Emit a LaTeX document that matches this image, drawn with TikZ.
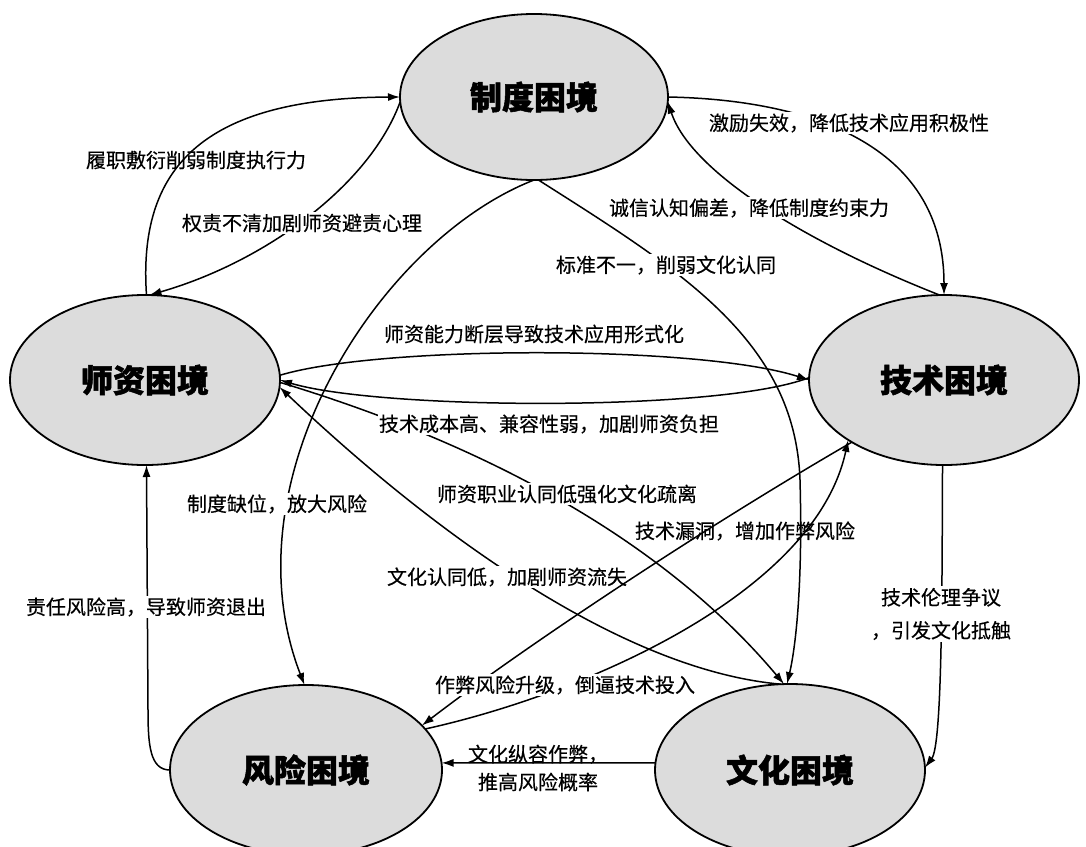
\documentclass[tikz,border=0pt]{standalone}
\usepackage{fontspec}
\setmainfont{Noto Sans CJK SC}[FakeBold=0.35,BoldFeatures={FakeBold=1.6}]
\usetikzlibrary{shapes.geometric,arrows.meta}
\definecolor{ellfill}{RGB}{220,220,220}
\begin{document}
\begin{tikzpicture}[x=1pt,y=-1pt,
  dilemma/.style={ellipse,draw=black,line width=1.8pt,fill=ellfill,inner sep=0pt,outer sep=0pt,font=\fontsize{32}{36}\selectfont\bfseries},
  conn/.style={line width=1.5pt,-{Latex[length=12pt,width=8pt]}},
  lab/.style={font=\fontsize{20}{24}\selectfont,inner sep=1.5pt},
  labw/.style={lab,fill=white},
]
\useasboundingbox (0,0) rectangle (1086,846);
\fill[white] (0,0) rectangle (1086,846);

% dilemma nodes
\node[dilemma,minimum width=268pt,minimum height=166pt] (zd) at (534,97) {制度困境};
\node[dilemma,minimum width=270pt,minimum height=170pt] (sz) at (145,380) {师资困境};
\node[dilemma,minimum width=270pt,minimum height=170pt] (js) at (944,380) {技术困境};
\node[dilemma,minimum width=272pt,minimum height=170pt] (fx) at (306,770) {风险困境};
\node[dilemma,minimum width=270pt,minimum height=172pt] (wh) at (790,770) {文化困境};

% connectors
\draw[conn] (sz.89) .. controls (138,170) and (200,98) .. (zd.180);
\draw[conn] (zd.182) .. controls (370,185) and (265,262) .. (sz.87);
\draw[conn] (zd.0) .. controls (820,100) and (944,150) .. (js.90);
\draw[conn] (js.93) .. controls (800,240) and (690,170) .. (zd.-2);
\draw[conn] (zd.273) .. controls (680,270) and (795,340) .. (800,480) .. controls (803,590) and (795,650) .. (wh.92);
\draw[conn] (zd.270) .. controls (380,240) and (225,480) .. (fx.91);
\draw[conn] (sz.2) .. controls (380,345) and (700,345) .. (js.180);
\draw[conn] (js.179) .. controls (720,412) and (380,410) .. (sz.0);
\draw[conn] (sz.-1) .. controls (520,455) and (680,560) .. (wh.94);
\draw[conn] (wh.96) .. controls (620,670) and (430,530) .. (sz.-3);
\draw[conn] (fx.180) .. controls (150,770) and (148,745) .. (148,710) -- (sz.271);
\draw[conn] (wh.177) -- (fx.3);
\draw[conn] (js.269) .. controls (942,600) and (942,745) .. (wh.1);

% labels
\node[lab]  (l1)  at (196,160) {履职敷衍削弱制度执行力};
\node[labw] (l2)  at (302,223) {权责不清加剧师资避责心理};
\node[labw] (l3)  at (849,123) {激励失效，降低技术应用积极性};
\node[labw] (l4)  at (749,208) {诚信认知偏差，降低制度约束力};
\node[labw] (l5)  at (666,265) {标准不一，削弱文化认同};
\node[lab]  (l6)  at (534,334) {师资能力断层导致技术应用形式化};
\node[labw] (l7)  at (549,424) {技术成本高、兼容性弱，加剧师资负担};
\node[labw] (l8)  at (277,504) {制度缺位，放大风险};
\node[labw] (l9)  at (567,494) {师资职业认同低强化文化疏离};
\node[labw] (l11) at (507,577) {文化认同低，加剧师资流失};
\node[labw] (l12) at (146,607) {责任风险高，导致师资退出};
\node[labw,align=center,font=\fontsize{20}{33}\selectfont] (l13) at (941,614) {技术伦理争议\\，引发文化抵触};

% crossing pair between technology and risk
\draw[conn] (js.214) .. controls (700,530) and (520,650) .. (fx.21);
\draw[conn] (fx.19) .. controls (580,695) and (815,595) .. (js.212);
\node[labw] (l14) at (565,685) {作弊风险升级，倒逼技术投入};
\node[lab]  (l10) at (745,531) {技术漏洞，增加作弊风险};
\node[lab,align=center,font=\fontsize{20}{28}\selectfont] (l15) at (538,768) {文化纵容作弊，\\推高风险概率};
\end{tikzpicture}
\end{document}
